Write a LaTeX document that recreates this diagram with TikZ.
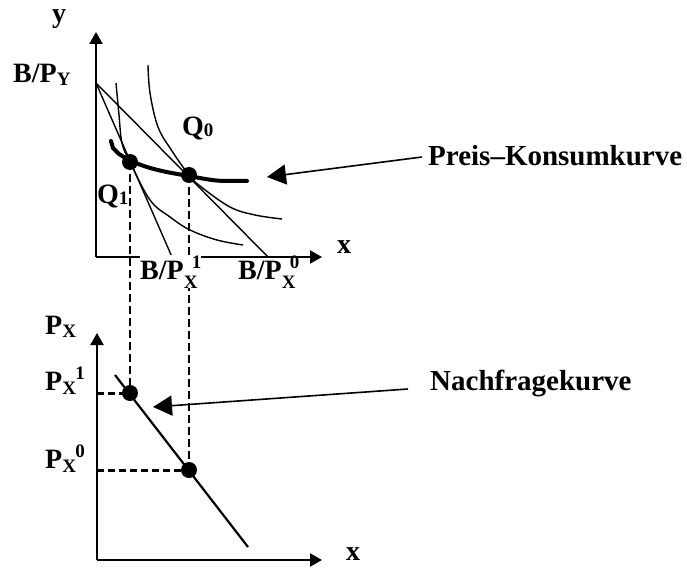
\documentclass[tikz,border=0pt]{standalone}
\usepackage{fontspec}
\setmainfont{Liberation Serif}
\usetikzlibrary{arrows.meta}
\newcommand{\smallidx}[1]{{\fontsize{19}{19}\selectfont #1}}
\newcommand{\Sub}[2]{\raisebox{-#1}{\smallidx{#2}}}
\newcommand{\SubSup}[4]{\rlap{\raisebox{-#3}{\smallidx{#1}}}\hspace{#4}\raisebox{11pt}{\smallidx{#2}}}
\begin{document}
\begin{tikzpicture}[x=1pt,y=-1pt,
  lbl/.style={font=\bfseries\fontsize{28}{30}\selectfont, inner sep=0pt, anchor=base west},
  biglbl/.style={font=\bfseries\fontsize{29}{31}\selectfont, inner sep=0pt, anchor=base west},
  axisline/.style={line width=2.2pt, -{Triangle[length=12pt,width=13pt]}},
  curveline/.style={line width=1.4pt},
  demandline/.style={line width=2.2pt},
  pcc/.style={line width=4pt, line join=round, line cap=round},
  vdash/.style={line width=1.7pt, dash pattern=on 8pt off 4pt},
  hdash/.style={line width=3pt, dash pattern=on 7pt off 4pt},
  dotnode/.style={circle, fill=black, minimum size=16pt, inner sep=0pt},
  pointer/.style={line width=1.6pt, -{Triangle[length=19pt,width=20pt]}}]
\useasboundingbox[fill=white] (0,0) rectangle (687,569);

% ---------- upper diagram ----------
\coordinate (O1) at (96,257);
\coordinate (Y1) at (96,32);
\coordinate (X1) at (322,257);
\draw[axisline] (O1) -- (Y1);
\draw[axisline] (O1) -- (X1);

\coordinate (BY) at (96,83);
\coordinate (BX1) at (172,257);
\coordinate (BX0) at (268,257);
\draw[curveline] (BY) -- (BX1);
\draw[curveline] (BY) -- (BX0);

% indifference curves
\draw[curveline] plot[smooth, tension=0.6] coordinates {(116,83) (119,115) (122,143) (130,162) (150,200) (170,217) (190,230) (217,240) (243,245)};
\draw[curveline] plot[smooth, tension=0.6] coordinates {(148,65) (150,93) (158,127) (172,151) (189,175) (200,186) (230,207) (255,215) (282,219)};

% price-consumption curve
\draw[pcc] (111,141) -- (113,148) -- (119,154) .. controls (140,168) and (165,172) .. (189,176) .. controls (205,179) and (215,181) .. (226,181) -- (247,181);

\node[dotnode] (Q1) at (130,162) {};
\node[dotnode] (Q0) at (189,175) {};

% ---------- lower diagram ----------
\coordinate (O2) at (97,560);
\coordinate (Y2) at (97,333);
\coordinate (X2) at (322,560);
\draw[axisline] (O2) -- (Y2);
\draw[axisline] (O2) -- (X2);

\coordinate (D1) at (115,375);
\coordinate (D2) at (248,547);
\draw[demandline] (D1) -- (D2);

\node[dotnode] (P1) at (130,393) {};
\node[dotnode] (P0) at (189,470) {};

\coordinate (H1) at (97,393);
\coordinate (H0) at (97,470);
\draw[hdash] (H1) -- (P1.center);
\draw[hdash] (H0) -- (P0.center);

% vertical dashed connections
\draw[vdash] (Q1.center) -- (P1.center);
\draw[vdash] (Q0.center) -- (P0.center);

% ---------- labels ----------
\node[lbl] (ly) at (52,23) {y};
\node[lbl] (lBPY) at (13,83) {B/P\Sub{3pt}{Y}};
\node[lbl] (lQ0) at (182,136) {Q\Sub{1pt}{0}};
\node[lbl] (lQ1) at (97,204) {Q\Sub{1pt}{1}};
\node[lbl] (lx1) at (337,253) {x};
\node[lbl, fill=white] (lBPX1) at (140,279) {B/P\SubSup{X}{1}{9pt}{8pt}};
\node[lbl] (lBPX0) at (238,279) {B/P\SubSup{X}{0}{9pt}{8pt}};

\node[lbl] (lPX) at (45,334) {P\Sub{3pt}{X}};
\node[lbl] (lPX1) at (45,390) {P\SubSup{X}{1}{4pt}{13pt}};
\node[lbl] (lPX0) at (45,468) {P\SubSup{X}{0}{4pt}{13pt}};
\node[lbl] (lx2) at (346,560) {x};

\node[biglbl] (pk) at (428,166) {Preis–Konsumkurve};
\node[biglbl] (nf) at (430,390) {Nachfragekurve};

\coordinate (pkTip) at (267,177);
\coordinate (nfTip) at (153,407);
\draw[pointer] (pk.west |- 0,157) ++(-6,0) -- (pkTip);
\draw[pointer] (nf.west |- 0,389) ++(-22,0) -- (nfTip);
\end{tikzpicture}
\end{document}
